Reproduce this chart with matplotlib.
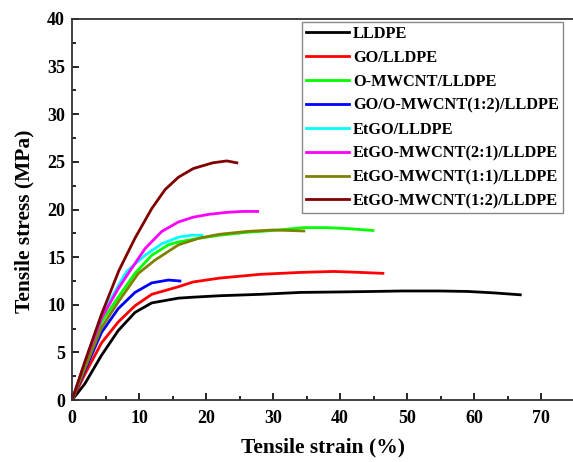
import matplotlib
matplotlib.use("Agg")
import matplotlib.pyplot as plt
from matplotlib.ticker import MultipleLocator

plt.rcParams['font.family'] = ['Liberation Serif', 'DejaVu Serif']
plt.rcParams['font.weight'] = 'bold'

# --- Stress-strain readings (strain %, stress MPa) ---
labels = ['LLDPE', 'GO/LLDPE', 'O-MWCNT/LLDPE', 'GO/O-MWCNT(1:2)/LLDPE',
          'EtGO/LLDPE', 'EtGO-MWCNT(2:1)/LLDPE', 'EtGO-MWCNT(1:1)/LLDPE',
          'EtGO-MWCNT(1:2)/LLDPE']
colors = ['#000000', '#ff0000', '#00ff00', '#0000ff',
          '#00ffff', '#ff00ff', '#808000', '#800000']

lldpe_x = [0, 1.9, 4.4, 6.9, 9.4, 11.9, 15.9, 18.1, 22, 28.1, 34.1, 40, 45,
           49.1, 55, 59.1, 63, 66.9]
lldpe_y = [0, 1.7, 4.7, 7.3, 9.2, 10.2, 10.7, 10.8, 10.95, 11.1, 11.3, 11.35,
           11.4, 11.45, 11.45, 11.4, 11.25, 11.05]

go_x = [0, 1.9, 4.4, 6.9, 9.4, 11.9, 15.9, 18.1, 22, 28.1, 34.1, 39.1, 43, 46.4]
go_y = [0, 2.7, 6.0, 8.2, 9.9, 11.1, 11.9, 12.4, 12.8, 13.2, 13.4, 13.5, 13.4, 13.3]

omw_x = [0, 1.9, 4.4, 6.9, 9.4, 11.9, 14.4, 15.9, 19.1, 22, 26, 30, 34.6,
         38, 41, 44.9]
omw_y = [0, 3.6, 8.2, 10.8, 13.3, 15.2, 16.3, 16.6, 17.0, 17.3, 17.6, 17.8,
         18.1, 18.1, 18.0, 17.8]

go_omw_x = [0, 1.9, 4.4, 6.9, 9.4, 11.9, 14.4, 16.1]
go_omw_y = [0, 3.1, 7.1, 9.6, 11.3, 12.3, 12.6, 12.5]

etgo_x = [0, 1.9, 4.4, 6.9, 8.15, 10.9, 13.4, 15.9, 17.8, 19.4]
etgo_y = [0, 3.9, 8.9, 12.0, 13.5, 15.2, 16.4, 17.1, 17.3, 17.3]

mw21_x = [0, 1.9, 4.4, 6.9, 8.4, 10.9, 13.4, 15.9, 18.1, 20.5, 23.1, 25.5, 27.7]
mw21_y = [0, 3.8, 8.6, 11.7, 13.3, 15.9, 17.7, 18.7, 19.2, 19.5, 19.7, 19.8, 19.8]

mw11_x = [0, 1.9, 4.4, 6.9, 9.9, 12.4, 15.9, 19, 22, 26.1, 30, 34.6]
mw11_y = [0, 3.3, 7.6, 10.3, 13.3, 14.7, 16.3, 17.0, 17.4, 17.7, 17.85, 17.75]

mw12_x = [0, 1.9, 4.4, 7.0, 9.4, 11.9, 13.9, 15.9, 18.1, 21.0, 23.1, 24.6]
mw12_y = [0, 4.0, 9.0, 13.6, 17.0, 20.1, 22.1, 23.4, 24.3, 24.9, 25.1, 24.9]

series = [(lldpe_x, lldpe_y), (go_x, go_y), (omw_x, omw_y), (go_omw_x, go_omw_y),
          (etgo_x, etgo_y), (mw21_x, mw21_y), (mw11_x, mw11_y), (mw12_x, mw12_y)]

fig = plt.figure(figsize=(5.73, 4.62), dpi=100)
ax = fig.add_axes([0.1257, 0.134, 0.877, 0.825])

for (x, y), c, lab in zip(series, colors, labels):
    ax.plot(x, y, color=c, lw=2.0, label=lab)

ax.set_xlim(0, 75)
ax.set_ylim(0, 40)
ax.xaxis.set_major_locator(MultipleLocator(10))
ax.xaxis.set_minor_locator(MultipleLocator(5))
ax.yaxis.set_major_locator(MultipleLocator(5))
ax.yaxis.set_minor_locator(MultipleLocator(2.5))
ax.tick_params(which='both', direction='in', labelsize=13, width=1.2)
ax.tick_params(which='major', length=5)
ax.tick_params(axis='x', which='major', pad=7)
ax.tick_params(axis='y', which='major', pad=5)
ax.tick_params(which='minor', length=3)
for s in ax.spines.values():
    s.set_linewidth(1.3)
    s.set_color('#333333')

ax.set_xlabel('Tensile strain (%)', fontsize=15.5, fontweight='bold', labelpad=8)
ax.set_ylabel('Tensile stress (MPa)', fontsize=15.5, fontweight='bold')
ax.yaxis.set_label_coords(-0.074, 0.47)

leg = ax.legend(loc='upper right', bbox_to_anchor=(0.977, 0.992), borderaxespad=0,
                fontsize=11.8, handlelength=2.6, labelspacing=0.48, fancybox=False,
                framealpha=1, borderpad=0.25, handletextpad=0.25)
leg.get_frame().set_edgecolor('#888888')
leg.get_frame().set_linewidth(1.0)

fig.savefig('out.png', dpi=100)
